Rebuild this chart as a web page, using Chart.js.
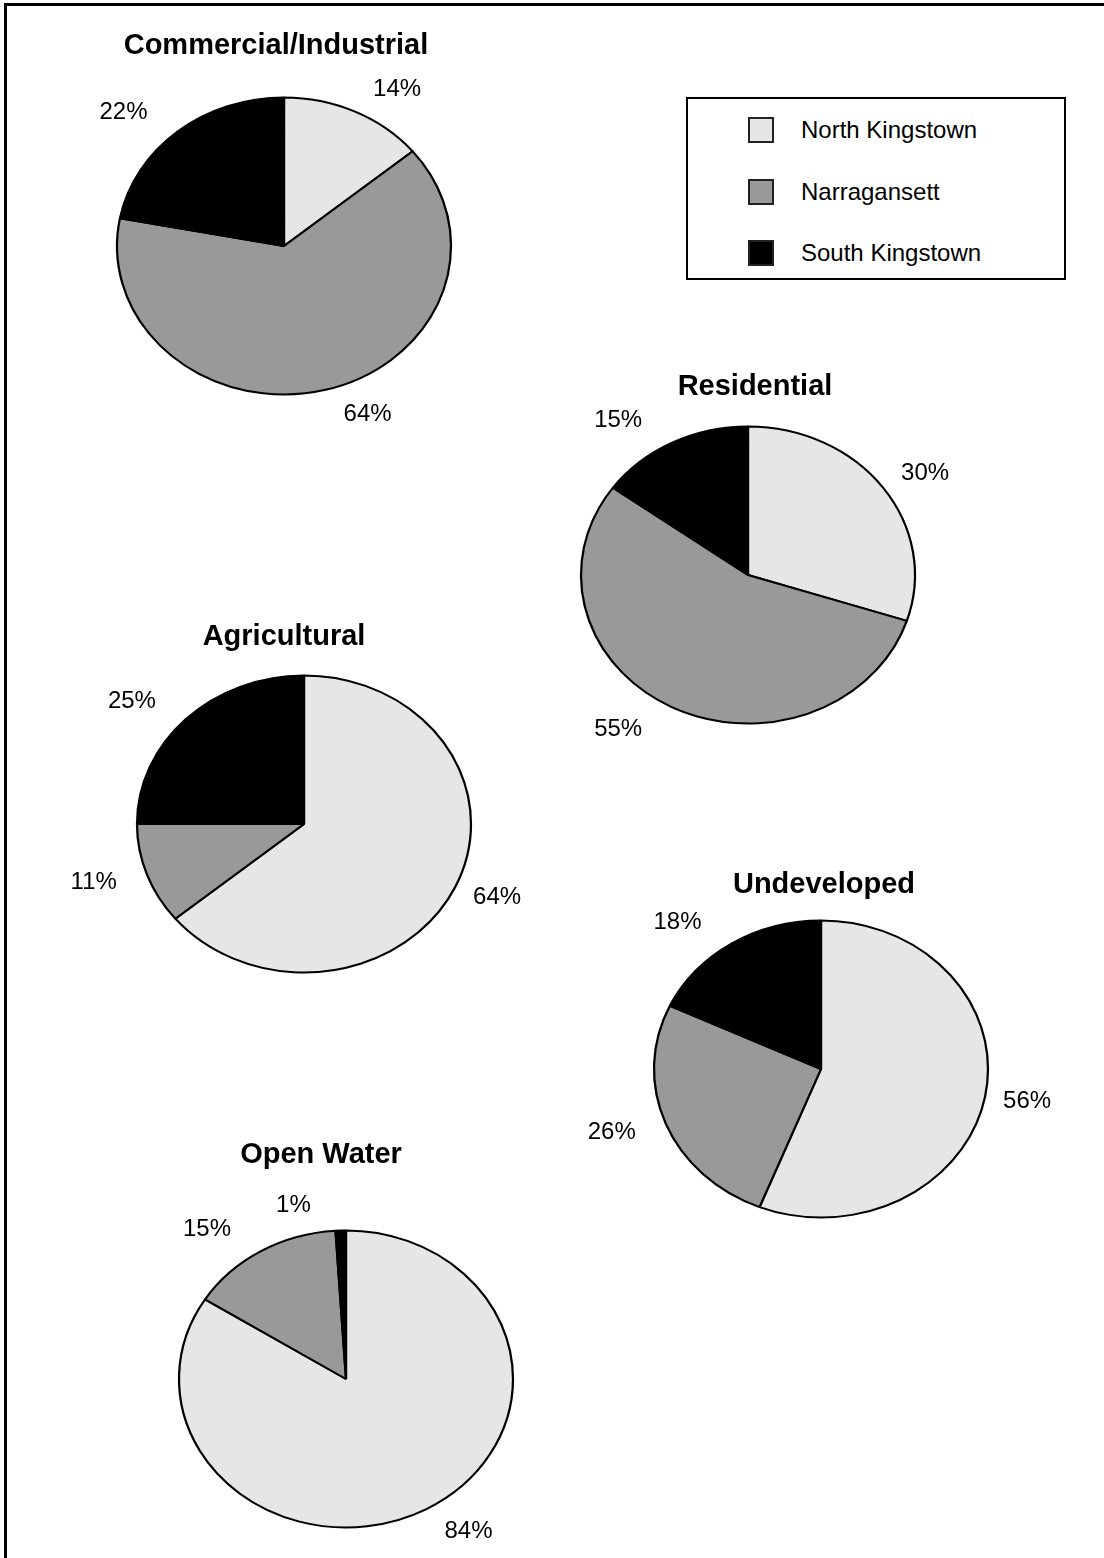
<!DOCTYPE html>
<html>
<head>
<meta charset="utf-8">
<script src="https://cdn.jsdelivr.net/npm/chart.js@4.4.1/dist/chart.umd.min.js"></script>
<style>
  html, body { margin: 0; padding: 0; background: #fff; }
  body { width: 1104px; height: 1558px; overflow: hidden; position: relative; font-family: "Liberation Sans", Arial, sans-serif; }
  .frame { position: absolute; left: 4px; top: 3px; width: 1200px; height: 1700px; border-top: 3px solid #000; border-left: 3px solid #000; }
  .pie { position: absolute; }
  .title { position: absolute; font-weight: bold; font-size: 29px; line-height: 1; white-space: nowrap; transform: translate(-50%, -50%); color: #000; }
  .legend { position: absolute; left: 686px; top: 97px; width: 380px; height: 183px; border: 2px solid #000; box-sizing: border-box; }
  .legend .item { position: absolute; left: 60px; height: 26px; display: flex; align-items: center; font-size: 24px; transform: translateY(-50%); }
  .legend .sq { width: 26px; height: 26px; box-sizing: border-box; border: 2px solid #222; margin-right: 27px; }
</style>
</head>
<body>
<div class="frame"></div>
<div class="legend" id="legend"></div>

<script>
// data
const towns = ['North Kingstown', 'Narragansett', 'South Kingstown'];
const landUses = ['Commercial/Industrial', 'Residential', 'Agricultural', 'Undeveloped', 'Open Water'];
const commercial = [14, 64, 22];
const residential = [30, 55, 15];
const agricultural = [64, 11, 25];
const undeveloped = [56, 26, 18];
const openWater = [84, 15, 1];

const townColors = ['#e6e6e6', '#999999', '#000000'];

// where each pie sits on the page (centre of the ellipse) and where its title goes
const pieLayout = [
  { cx: 284, cy: 246, tx: 276, ty: 44 },
  { cx: 748, cy: 575, tx: 755, ty: 385 },
  { cx: 304, cy: 824, tx: 284, ty: 635 },
  { cx: 821, cy: 1069, tx: 824, ty: 883 },
  { cx: 346, cy: 1379, tx: 321, ty: 1153 }
];
const seriesList = [commercial, residential, agricultural, undeveloped, openWater];

const RY = 148.5;       // vertical radius
const SX = 167 / 148.5; // horizontal stretch to get the ellipse
const W = 560, H = 440;

Chart.defaults.font.family = '"Liberation Sans", Arial, sans-serif';

// squash the circle into an ellipse
const ellipsePlugin = {
  id: 'ellipse',
  beforeDatasetsDraw(chart) {
    const arc = chart.getDatasetMeta(0).data[0];
    const ctx = chart.ctx;
    ctx.save();
    ctx.translate(arc.x, arc.y);
    ctx.scale(SX, 1);
    ctx.translate(-arc.x, -arc.y);
  },
  afterDatasetsDraw(chart) {
    chart.ctx.restore();
  }
};

// percent labels outside each slice
const pctLabels = {
  id: 'pctLabels',
  afterDraw(chart) {
    const ctx = chart.ctx;
    const values = chart.data.datasets[0].data;
    ctx.save();
    ctx.font = '24px "Liberation Sans", Arial, sans-serif';
    ctx.fillStyle = '#000';
    ctx.textAlign = 'center';
    ctx.textBaseline = 'middle';
    chart.getDatasetMeta(0).data.forEach((arc, i) => {
      const mid = (arc.startAngle + arc.endAngle) / 2;
      const c = Math.cos(mid), s = Math.sin(mid);
      const txt = values[i] + '%';
      const w = ctx.measureText(txt).width;
      let x = arc.x + c * arc.outerRadius * SX;
      let y = arc.y + s * arc.outerRadius;
      x += c >= 0 ? (w / 2 + 18) : -(w / 2 + 30);
      y += s * 25;
      ctx.fillText(txt, x, y);
    });
    ctx.restore();
  }
};

seriesList.forEach((vals, k) => {
  const pos = pieLayout[k];
  const canvas = document.createElement('canvas');
  canvas.className = 'pie';
  canvas.width = W;
  canvas.height = H;
  canvas.style.left = (pos.cx - W / 2) + 'px';
  canvas.style.top = (pos.cy - H / 2) + 'px';
  document.body.appendChild(canvas);

  const t = document.createElement('div');
  t.className = 'title';
  t.textContent = landUses[k];
  t.style.left = pos.tx + 'px';
  t.style.top = pos.ty + 'px';
  document.body.appendChild(t);

  new Chart(canvas, {
    type: 'pie',
    data: {
      labels: towns,
      datasets: [{
        data: vals,
        backgroundColor: townColors,
        borderColor: '#000',
        borderWidth: 2
      }]
    },
    options: {
      responsive: false,
      animation: false,
      radius: RY,
      layout: { padding: 0 },
      plugins: {
        legend: { display: false },
        tooltip: { enabled: false }
      }
    },
    plugins: [ellipsePlugin, pctLabels]
  });
});

// legend box
const legendEl = document.getElementById('legend');
const legendY = [31, 93, 154];
towns.forEach((name, i) => {
  const item = document.createElement('div');
  item.className = 'item';
  item.style.top = legendY[i] + 'px';
  const sq = document.createElement('div');
  sq.className = 'sq';
  sq.style.background = townColors[i];
  const label = document.createElement('span');
  label.textContent = name;
  item.appendChild(sq);
  item.appendChild(label);
  legendEl.appendChild(item);
});
</script>
</body>
</html>
